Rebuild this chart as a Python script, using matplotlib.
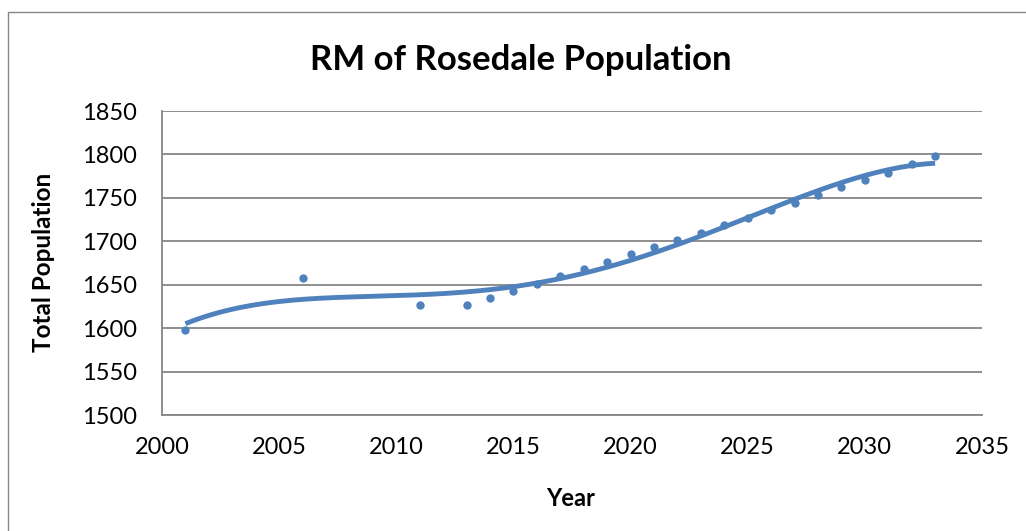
import numpy as np
import matplotlib
matplotlib.use("Agg")
import matplotlib.pyplot as plt
from matplotlib.patches import Rectangle

years = [2001, 2006, 2011, 2013, 2014, 2015, 2016, 2017, 2018, 2019, 2020,
         2021, 2022, 2023, 2024, 2025, 2026, 2027, 2028, 2029, 2030, 2031,
         2032, 2033]
population = [1598, 1658, 1627, 1627, 1635, 1643, 1651, 1660, 1668, 1676, 1685,
              1693, 1702, 1710, 1719, 1727, 1736, 1744, 1753, 1762, 1771, 1779,
              1789, 1798]
x_ticks = [2000, 2005, 2010, 2015, 2020, 2025, 2030, 2035]
y_ticks = [1500, 1550, 1600, 1650, 1700, 1750, 1800, 1850]

plt.rcParams['font.family'] = ['Lato', 'DejaVu Sans']
blue = '#4F81BD'
grey = '#868686'

fig = plt.figure(figsize=(10.26, 5.31), dpi=100)
fig.patches.append(Rectangle((8/1026, -0.1), 1.2, (531-12)/531 + 0.1,
                             transform=fig.transFigure, fill=False,
                             edgecolor=grey, linewidth=1.0))
ax = fig.add_axes([162/1026, 1-415/531, (982-162)/1026, (415-111)/531])

xa = np.array(years, dtype=float)
ya = np.array(population, dtype=float)
coef = np.polyfit(xa - 2017, ya, 4)
xs = np.linspace(2001, 2033, 300)
ax.plot(xs, np.polyval(coef, xs - 2017), color=blue, linewidth=3.5,
        solid_capstyle='butt', zorder=3)
ax.plot(years, population, 'o', color=blue, markersize=5, zorder=4)

ax.set_xlim(2000, 2035)
ax.set_ylim(1500, 1850)
ax.set_xticks(x_ticks)
ax.set_yticks(y_ticks)
ax.grid(axis='y', color=grey, linewidth=1.3)
ax.set_axisbelow(True)
for s in ['top', 'right']:
    ax.spines[s].set_visible(False)
for s in ['left', 'bottom']:
    ax.spines[s].set_color(grey)
    ax.spines[s].set_linewidth(1.3)
ax.tick_params(axis='both', length=0, labelsize=17)
ax.tick_params(axis='x', pad=16)
ax.tick_params(axis='y', pad=18)

fig.text(521/1026, 1-70/531, 'RM of Rosedale Population', ha='center', va='baseline',
         fontsize=25, fontweight='bold')
fig.text(571/1026, 1-506/531, 'Year', ha='center', va='baseline',
         fontsize=17, fontweight='bold')
fig.text(44/1026, 1-262/531, 'Total Population', ha='center', va='center',
         rotation=90, fontsize=17.5, fontweight='bold')

fig.savefig('out.png', dpi=100)
